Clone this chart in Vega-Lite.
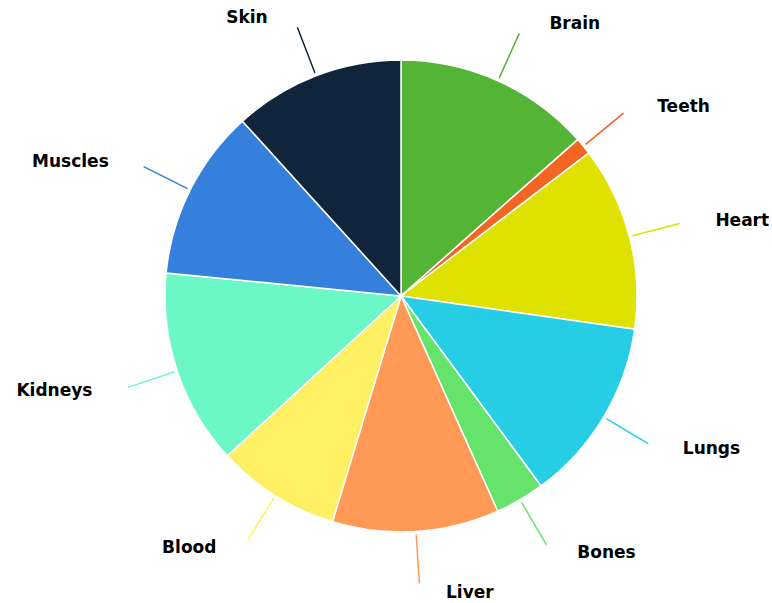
{
  "$schema": "https://vega.github.io/schema/vega-lite/v6.json",
  "autosize": {"type": "none"},
  "width": 742,
  "height": 592,
  "padding": {"left": 30, "top": 0, "right": 0, "bottom": 11},
  "background": "white",
  "config": {"view": {"stroke": null}},
  "data": {
    "values": [
      {"idx": 1, "organ": "Brain", "value": 48.5, "side": "right"},
      {"idx": 2, "organ": "Teeth", "value": 4.2, "side": "right"},
      {"idx": 3, "organ": "Heart", "value": 45.4, "side": "right"},
      {"idx": 4, "organ": "Lungs", "value": 45.5, "side": "right"},
      {"idx": 5, "organ": "Bones", "value": 12.2, "side": "right"},
      {"idx": 6, "organ": "Liver", "value": 41.1, "side": "right"},
      {"idx": 7, "organ": "Blood", "value": 30.5, "side": "left"},
      {"idx": 8, "organ": "Kidneys", "value": 48.2, "side": "left"},
      {"idx": 9, "organ": "Muscles", "value": 42.2, "side": "left"},
      {"idx": 10, "organ": "Skin", "value": 42.2, "side": "left"}
    ]
  },
  "encoding": {
    "theta": {"field": "value", "type": "quantitative", "stack": true},
    "order": {"field": "idx", "type": "quantitative"}
  },
  "layer": [
    {
      "mark": {"type": "arc", "outerRadius": 236, "stroke": "white", "strokeWidth": 1.5},
      "encoding": {
        "color": {
          "field": "organ",
          "type": "nominal",
          "legend": null,
          "scale": {
            "domain": ["Brain", "Teeth", "Heart", "Lungs", "Bones", "Liver", "Blood", "Kidneys", "Muscles", "Skin"],
            "range": ["#54b435", "#f26522", "#dfe200", "#26cde5", "#66e36b", "#ff9955", "#fff063", "#6bf8c6", "#3480dc", "#10243c"]
          }
        }
      }
    },
    {
      "mark": {"type": "arc", "innerRadius": 239, "outerRadius": 288, "padAngle": 3, "fillOpacity": 0, "strokeWidth": 1.5},
      "encoding": {
        "stroke": {
          "field": "organ",
          "type": "nominal",
          "legend": null,
          "scale": {
            "domain": ["Brain", "Teeth", "Heart", "Lungs", "Bones", "Liver", "Blood", "Kidneys", "Muscles", "Skin"],
            "range": ["#54b435", "#f26522", "#dfe200", "#26cde5", "#66e36b", "#ff9955", "#fff063", "#6bf8c6", "#3480dc", "#10243c"]
          }
        }
      }
    },
    {
      "mark": {"type": "text", "radius": 298, "align": "left", "baseline": "middle", "dx": 26, "font": "DejaVu Sans", "fontWeight": "bold", "fontSize": 17, "color": "#000000"},
      "encoding": {
        "detail": {"field": "organ", "type": "nominal"},
        "text": {"condition": {"test": "datum.side === 'right'", "field": "organ"}, "value": ""}
      }
    },
    {
      "mark": {"type": "text", "radius": 298, "align": "right", "baseline": "middle", "dx": -26, "font": "DejaVu Sans", "fontWeight": "bold", "fontSize": 17, "color": "#000000"},
      "encoding": {
        "detail": {"field": "organ", "type": "nominal"},
        "text": {"condition": {"test": "datum.side === 'left'", "field": "organ"}, "value": ""}
      }
    }
  ]
}
